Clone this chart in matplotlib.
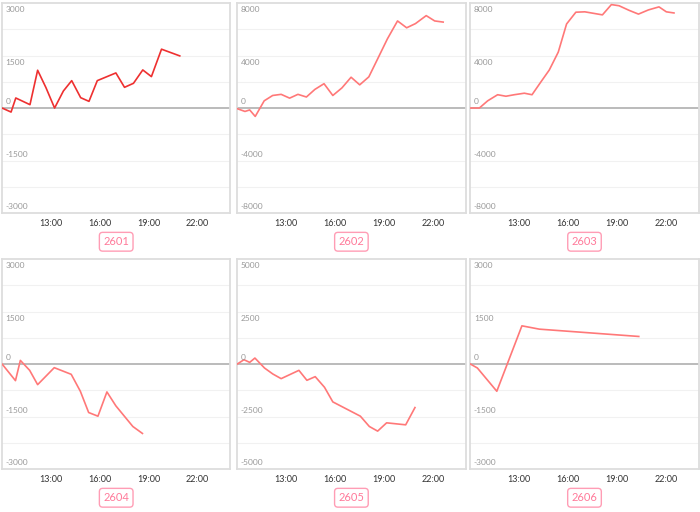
import matplotlib.pyplot as plt
from matplotlib.ticker import FuncFormatter

plt.rcParams['font.family'] = ['Lato', 'DejaVu Sans']

# contract names
names = ["2601", "2602", "2603", "2604", "2605", "2606"]

# times in hours
t_2601 = [10.0, 10.55, 10.84, 11.71, 12.18, 12.69, 13.22, 13.76, 14.27, 14.82, 15.33, 15.84,
          16.98, 17.51, 18.06, 18.63, 19.16, 19.78, 20.90]
v_2601 = [0, -115, 287, 96, 1080, 583, 0, 487, 783, 296, 191, 783,
          1003, 592, 707, 1089, 898, 1682, 1490]

t_2602 = [10.0, 10.47, 10.76, 11.10, 11.65, 12.17, 12.69, 13.21, 13.72, 14.24, 14.76, 15.32,
          15.86, 16.42, 16.98, 17.51, 18.07, 18.63, 19.21, 19.83, 20.39, 20.93, 21.59, 22.11, 22.63]
v_2602 = [-50, -260, -145, -640, 550, 957, 1043, 754, 1043, 841, 1420, 1855,
          957, 1536, 2348, 1768, 2377, 3797, 5275, 6638, 6116, 6435, 7043, 6638, 6551]

t_2603 = [10.0, 10.55, 11.06, 11.67, 12.18, 12.69, 13.31, 13.78, 14.33, 14.84, 15.39, 15.90,
          16.47, 17.02, 18.10, 18.65, 19.12, 19.73, 20.31, 20.92, 21.57, 22.02, 22.49]
v_2603 = [0, 0, 550, 1014, 899, 1014, 1130, 1014, 2000, 2899, 4261, 6406,
          7304, 7333, 7101, 7884, 7797, 7449, 7159, 7478, 7710, 7333, 7246]

t_2604 = [10.0, 10.82, 11.12, 11.69, 12.18, 13.20, 14.24, 14.80, 15.31, 15.88, 16.43, 16.98,
          18.02, 18.61]
v_2604 = [0, -475, 104, -180, -589, -104, -294, -778, -1386, -1491, -797, -1196,
          -1785, -1984]

t_2605 = [10.0, 10.41, 10.76, 11.08, 11.67, 12.18, 12.69, 13.78, 14.27, 14.78, 15.35, 15.86,
          17.55, 18.10, 18.61, 19.16, 20.33, 20.90]
v_2605 = [0, 206, 79, 285, -190, -475, -696, -301, -775, -601, -1108, -1804,
          -2484, -2975, -3196, -2801, -2896, -2073]

t_2606 = [10.0, 10.43, 11.62, 13.16, 14.23, 20.33]
v_2606 = [0, -114, -778, 1092, 997, 788]

times = [t_2601, t_2602, t_2603, t_2604, t_2605, t_2606]
values = [v_2601, v_2602, v_2603, v_2604, v_2605, v_2606]
limits = [3000, 8000, 8000, 3000, 5000, 3000]
x_ticks = [13, 16, 19, 22]

line_colors = ["#ee3030", "#ff7878", "#ff7878", "#ff7878", "#ff7878", "#ff7878"]

fig = plt.figure(figsize=(7, 5.12), dpi=100)

lefts = [0.003, 0.339, 0.672]
bottoms = [0.584, 0.084]
w, h = 0.326, 0.410

# label positions inside the plot (axes fraction), top to bottom
label_fracs = [0.971, 0.719, 0.529, 0.281, 0.029]

for i in range(6):
    ax = fig.add_axes([lefts[i % 3], bottoms[i // 3], w, h])
    lim = limits[i]
    ax.set_xlim(10, 24)
    ax.set_ylim(-lim, lim)

    # light grid every quarter of the half range
    for g in range(-4, 5):
        yv = lim * g / 4
        if g == 0:
            ax.axhline(yv, color="#bbbbbb", lw=1.4, zorder=2)
        elif abs(g) < 4:
            ax.axhline(yv, color="#f1f1f1", lw=0.8, zorder=1)

    ax.plot(times[i], values[i], color=line_colors[i], lw=1.2, zorder=3)

    ax.set_yticks([])
    for frac, val in zip(label_fracs, [lim, lim // 2, 0, -lim // 2, -lim]):
        ax.text(0.015, frac, str(val), transform=ax.transAxes, fontsize=6,
                color="#999999", va="center", ha="left")

    ax.set_xticks(x_ticks)
    ax.xaxis.set_major_formatter(FuncFormatter(lambda x, p: "%d:00" % x))
    ax.tick_params(axis="x", length=0, labelsize=6.5, labelcolor="#333333", pad=4)

    for s in ax.spines.values():
        s.set_color("#dddddd")
        s.set_linewidth(1.3)

    ax.text(0.5, -0.137, names[i], transform=ax.transAxes, fontsize=8,
            color="#ff7a9a", ha="center", va="center",
            bbox=dict(boxstyle="round,pad=0.35,rounding_size=0.3", fc="white",
                      ec="#ff9db5", lw=1.0))

fig.savefig("out.png", dpi=100)
